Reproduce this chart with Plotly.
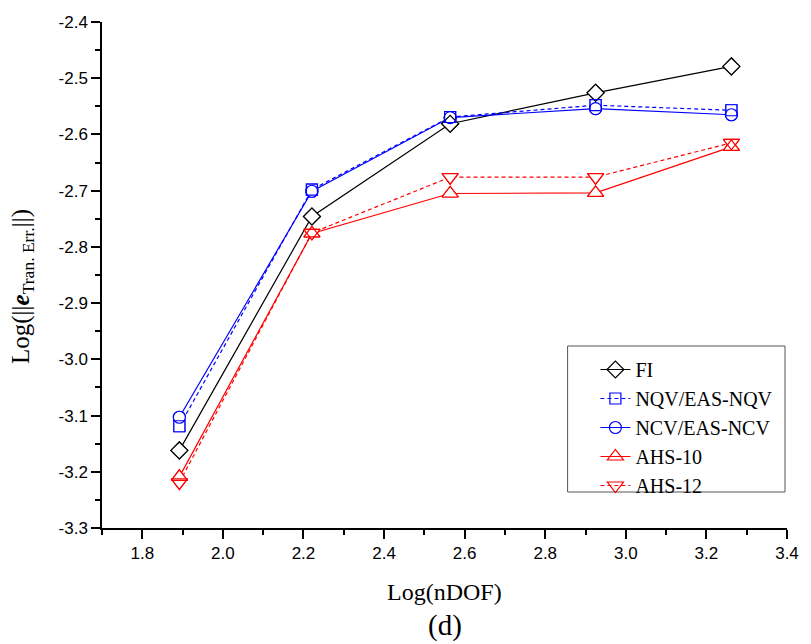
import plotly.graph_objects as go

# ---- data ----
x_vals = [1.892, 2.221, 2.564, 2.925, 3.262]
series_names = ["FI", "NQV/EAS-NQV", "NCV/EAS-NCV", "AHS-10", "AHS-12"]
fi = [-3.162, -2.746, -2.581, -2.526, -2.479]
nqv = [-3.119, -2.698, -2.569, -2.548, -2.557]
ncv = [-3.103, -2.701, -2.570, -2.554, -2.565]
ahs10 = [-3.209, -2.776, -2.705, -2.704, -2.622]
ahs12 = [-3.219, -2.775, -2.676, -2.676, -2.615]
y_tick_vals = [-3.3, -3.2, -3.1, -3.0, -2.9, -2.8, -2.7, -2.6, -2.5, -2.4]
y_tick_labels = ["-3.3", "-3.2", "-3.1", "-3.0", "-2.9", "-2.8", "-2.7", "-2.6", "-2.5", "-2.4"]
x_tick_vals = [1.8, 2.0, 2.2, 2.4, 2.6, 2.8, 3.0, 3.2, 3.4]
x_tick_labels = ["1.8", "2.0", "2.2", "2.4", "2.6", "2.8", "3.0", "3.2", "3.4"]

styles = [
    (fi, "black", "solid", "diamond", 13),
    (nqv, "#0000FF", "4px,3px", "square", 11),
    (ncv, "#0000FF", "solid", "circle", 12),
    (ahs10, "#FF0000", "solid", "triangle-up", 14),
    (ahs12, "#FF0000", "4px,3px", "triangle-down", 14),
]

fig = go.Figure()
# layer 1: lines (+ legend entries)
for name, (ys, col, dash, sym, sz) in zip(series_names, styles):
    fig.add_trace(go.Scatter(
        x=x_vals, y=ys, name=name, mode="lines+markers",
        line=dict(color=col, width=1.2, dash=dash),
        marker=dict(symbol=sym + "-open", size=sz, color=col, line=dict(width=1.2, color=col)),
    ))
# layer 2: white fills to hide lines inside markers
for name, (ys, col, dash, sym, sz) in zip(series_names, styles):
    fig.add_trace(go.Scatter(
        x=x_vals, y=ys, mode="markers", showlegend=False, hoverinfo="skip",
        marker=dict(symbol=sym, size=sz, color="white", line=dict(width=0)),
    ))
# layer 3: outlines on top
for name, (ys, col, dash, sym, sz) in zip(series_names, styles):
    fig.add_trace(go.Scatter(
        x=x_vals, y=ys, mode="markers", showlegend=False, hoverinfo="skip",
        marker=dict(symbol=sym + "-open", size=sz, color=col, line=dict(width=1.2, color=col)),
    ))

serif = "Liberation Serif, Times New Roman, serif"
axis_font = dict(family="Liberation Sans, Arial, sans-serif", size=17, color="black")
fig.update_layout(
    width=811, height=644,
    margin=dict(l=102, r=19, t=22, b=116),
    plot_bgcolor="white", paper_bgcolor="white",
    showlegend=True,
    legend=dict(
        x=(599 - 102) / 690, y=(528 - 350) / 506, xanchor="left", yanchor="top",
        borderwidth=0, bgcolor="rgba(0,0,0,0)",
        font=dict(family=serif, size=20, color="black"),
        tracegroupgap=0,
    ),
    shapes=[
        dict(type="rect", xref="paper", yref="paper",
             x0=(571 - 102) / 690, x1=(790 - 102) / 690,
             y0=(528 - 492) / 506, y1=(528 - 346) / 506,
             line=dict(color="#555555", width=1), fillcolor="white", layer="below"),
    ],
    xaxis=dict(
        range=[1.7, 3.4], tickvals=x_tick_vals, ticktext=x_tick_labels,
        showline=True, linecolor="black", linewidth=1.5, mirror=False,
        ticks="outside", ticklen=9, tickwidth=1.5, tickcolor="black",
        minor=dict(dtick=0.1, tick0=1.7, ticks="outside", ticklen=5, tickwidth=1.5, tickcolor="black"),
        showgrid=False, zeroline=False, tickfont=axis_font,
    ),
    yaxis=dict(
        range=[-3.3, -2.4], tickvals=y_tick_vals, ticktext=y_tick_labels,
        showline=True, linecolor="black", linewidth=1.5, mirror=False,
        ticks="outside", ticklen=9, tickwidth=1.5, tickcolor="black",
        minor=dict(dtick=0.05, tick0=-3.3, ticks="outside", ticklen=5, tickwidth=1.5, tickcolor="black"),
        showgrid=False, zeroline=False, tickfont=axis_font,
    ),
    annotations=[
        dict(text="Log(nDOF)", xref="paper", yref="paper", x=0.5, y=0, xanchor="center", yanchor="middle",
             yshift=-64, showarrow=False,
             font=dict(family=serif, size=24, color="black")),
        dict(text="(d)", xref="paper", yref="paper", x=0.5, y=0, xanchor="center", yanchor="middle",
             yshift=-97, showarrow=False,
             font=dict(family=serif, size=29, color="black")),
        dict(text="Log(||<b><i>e</i></b><sub>Tran. Err.</sub>||)", xref="paper", yref="paper",
             x=0, y=0.5, xanchor="center", yanchor="middle", xshift=-80, yshift=-12, textangle=-90,
             showarrow=False,
             font=dict(family=serif, size=25, color="black")),
    ],
)

fig.write_html("out.html", config={"displayModeBar": False},
               post_script="document.body.style.margin='0';document.body.style.overflow='hidden';")
